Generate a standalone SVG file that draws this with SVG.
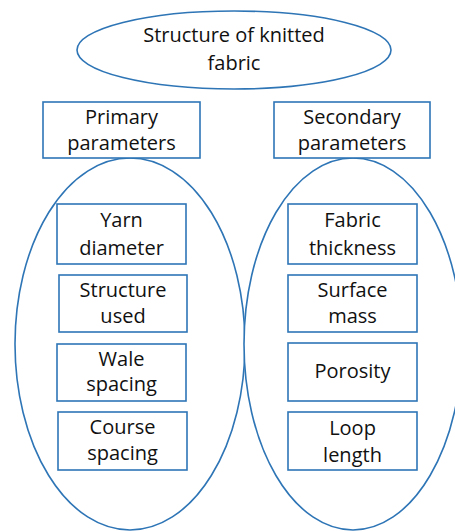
<svg xmlns="http://www.w3.org/2000/svg" width="455" height="531" viewBox="0 0 455 531">
<style>
.s{fill:#ffffff;stroke:#2E75B6;stroke-width:1.6}
.t{font-family:"Open Sans","Noto Sans",sans-serif;font-size:20px;fill:#111111;text-anchor:middle}
</style>
<rect width="455" height="531" fill="#ffffff"/>
<g id="connectors"></g>
<g id="left-group">
<ellipse class="s" cx="130" cy="344" rx="115" ry="186"/>
</g>
<g id="right-group">
<ellipse class="s" cx="353" cy="344" rx="109" ry="186"/>
</g>
<g id="root">
<ellipse class="s" cx="234" cy="50" rx="157" ry="39"/>
<text class="t" x="234" y="42">Structure of knitted</text>
<text class="t" x="234" y="70">fabric</text>
</g>
<g id="primary">
<rect class="s" x="43" y="102" width="157" height="56"/>
<text class="t" x="121.5" y="124">Primary</text>
<text class="t" x="121.5" y="150">parameters</text>
</g>
<g id="secondary">
<rect class="s" x="274" y="102" width="156" height="56"/>
<text class="t" x="352" y="124">Secondary</text>
<text class="t" x="352" y="150">parameters</text>
</g>
<g id="yarn-diameter">
<rect class="s" x="57" y="204" width="129" height="60"/>
<text class="t" x="121.5" y="227">Yarn</text>
<text class="t" x="121.5" y="255">diameter</text>
</g>
<g id="structure-used">
<rect class="s" x="59" y="275" width="128" height="57"/>
<text class="t" x="123" y="297">Structure</text>
<text class="t" x="123" y="323">used</text>
</g>
<g id="wale-spacing">
<rect class="s" x="57" y="344" width="129" height="57"/>
<text class="t" x="121.5" y="366">Wale</text>
<text class="t" x="121.5" y="391">spacing</text>
</g>
<g id="course-spacing">
<rect class="s" x="58" y="412" width="129" height="58"/>
<text class="t" x="122.5" y="434">Course</text>
<text class="t" x="122.5" y="460">spacing</text>
</g>
<g id="fabric-thickness">
<rect class="s" x="288" y="204" width="129" height="60"/>
<text class="t" x="352.5" y="227">Fabric</text>
<text class="t" x="352.5" y="255">thickness</text>
</g>
<g id="surface-mass">
<rect class="s" x="288" y="275" width="129" height="57"/>
<text class="t" x="352.5" y="297">Surface</text>
<text class="t" x="352.5" y="323">mass</text>
</g>
<g id="porosity">
<rect class="s" x="288" y="343" width="129" height="58"/>
<text class="t" x="352.5" y="378">Porosity</text>
</g>
<g id="loop-length">
<rect class="s" x="288" y="412" width="129" height="58"/>
<text class="t" x="352.5" y="435">Loop</text>
<text class="t" x="352.5" y="462">length</text>
</g>
</svg>
